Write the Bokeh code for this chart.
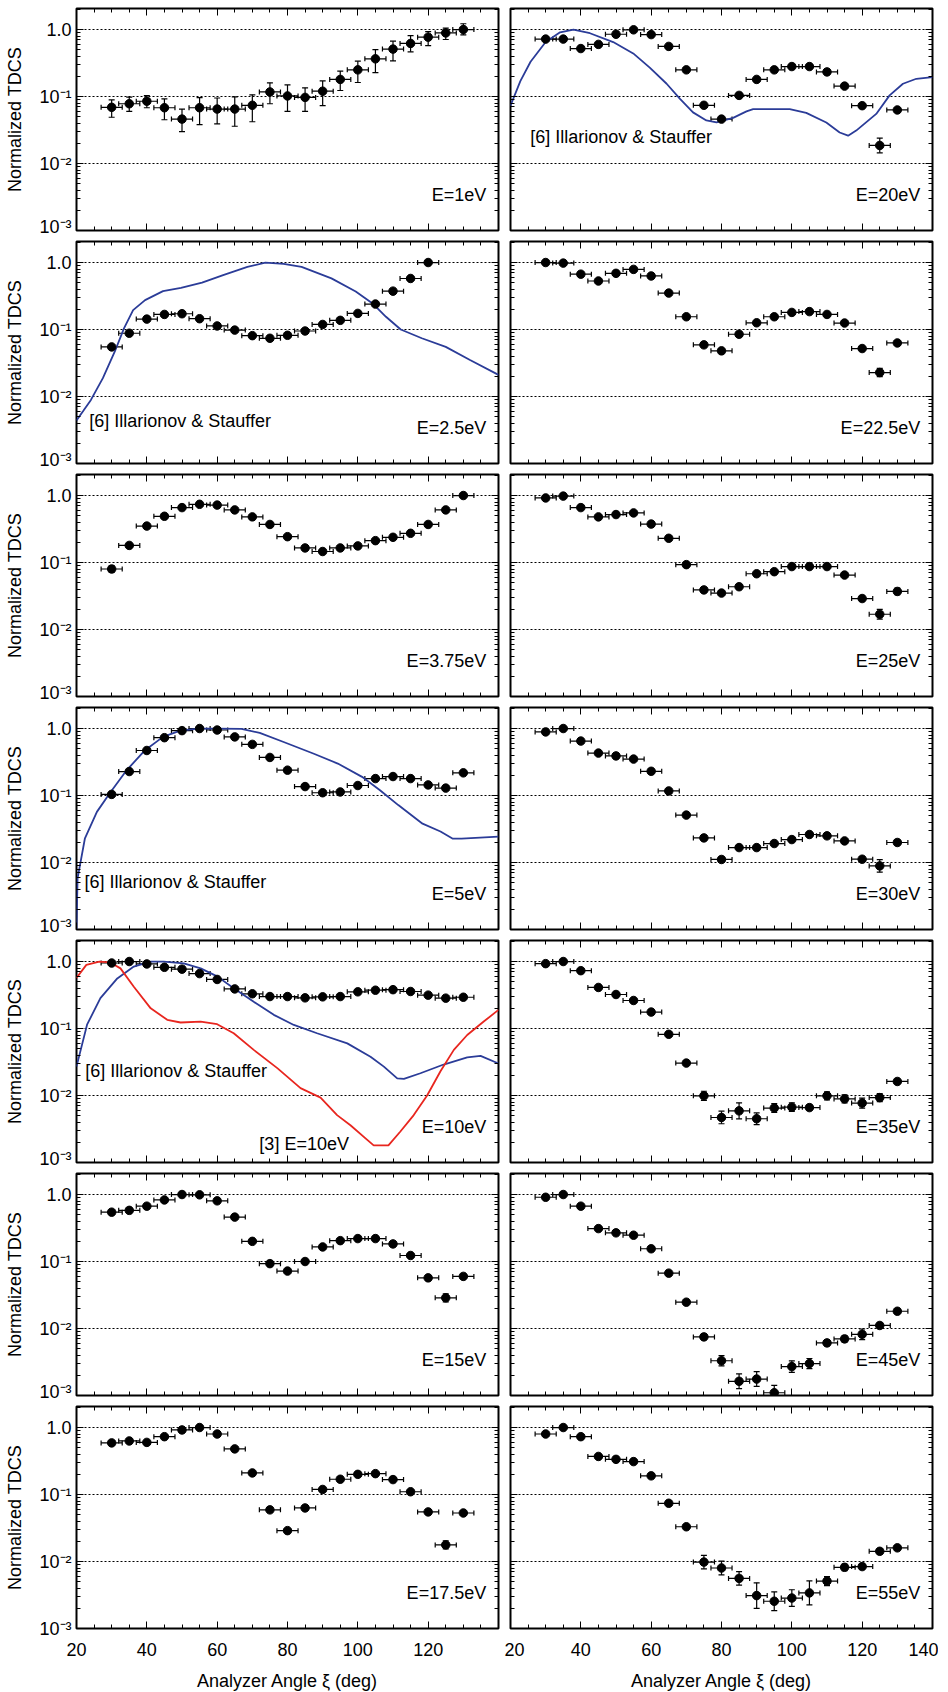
from bokeh.plotting import figure
from bokeh.layouts import column, row
from bokeh.models import (Range1d, FixedTicker, LinearAxis, LogAxis, ColumnDataSource,
                          Whisker, TeeHead, CustomJSTickFormatter)
from bokeh.core.properties import value
from bokeh.embed import file_html
from bokeh.resources import INLINE

FONT = "Liberation Sans"
BLUE = "#2b3c98"
RED = "#e8261f"

# ---------------- data ----------------
angles = [30, 35, 40, 45, 50, 55, 60, 65, 70, 75, 80, 85, 90, 95, 100, 105, 110, 115, 120, 125, 130]
angles_2p5 = [30, 35, 40, 45, 50, 55, 60, 65, 70, 75, 80, 85, 90, 95, 100, 105, 110, 115, 120]
x_halfwidth = 3.0

tdcs_1 = [0.069, 0.078, 0.085, 0.068, 0.046, 0.068, 0.065, 0.065, 0.074, 0.117, 0.102, 0.097, 0.12, 0.18, 0.25, 0.365, 0.51, 0.62, 0.77, 0.89, 1.0]
lo_1 = [0.049, 0.060, 0.068, 0.045, 0.030, 0.038, 0.039, 0.036, 0.042, 0.078, 0.060, 0.060, 0.073, 0.123, 0.162, 0.228, 0.34, 0.465, 0.577, 0.71, 0.83]
hi_1 = [0.089, 0.098, 0.103, 0.092, 0.065, 0.096, 0.095, 0.099, 0.106, 0.16, 0.149, 0.135, 0.171, 0.24, 0.337, 0.50, 0.67, 0.81, 0.93, 1.05, 1.22]

tdcs_2p5 = [0.055, 0.088, 0.143, 0.168, 0.172, 0.145, 0.113, 0.098, 0.081, 0.074, 0.082, 0.095, 0.119, 0.137, 0.174, 0.24, 0.374, 0.578, 1.0]
ef_2p5 = [1.05] * 19

tdcs_3p75 = [0.080, 0.18, 0.35, 0.49, 0.66, 0.74, 0.72, 0.61, 0.48, 0.37, 0.243, 0.165, 0.146, 0.165, 0.177, 0.212, 0.238, 0.273, 0.37, 0.61, 1.0]
ef_3p75 = [1.12, 1.06, 1.05, 1.05, 1.05, 1.05, 1.05, 1.05, 1.05, 1.05, 1.05, 1.05, 1.05, 1.05, 1.05, 1.05, 1.05, 1.05, 1.05, 1.05, 1.05]

tdcs_5 = [0.104, 0.228, 0.47, 0.73, 0.93, 1.0, 0.95, 0.75, 0.58, 0.37, 0.239, 0.136, 0.11, 0.113, 0.141, 0.179, 0.192, 0.179, 0.144, 0.129, 0.218]
ef_5 = [1.05] * 21

tdcs_10 = [0.95, 1.0, 0.92, 0.82, 0.77, 0.66, 0.54, 0.39, 0.33, 0.30, 0.30, 0.287, 0.297, 0.30, 0.353, 0.373, 0.38, 0.357, 0.315, 0.284, 0.293]
ef_10 = [1.05] * 21

tdcs_15 = [0.545, 0.58, 0.67, 0.83, 1.0, 0.99, 0.805, 0.46, 0.20, 0.093, 0.072, 0.10, 0.165, 0.205, 0.22, 0.22, 0.183, 0.123, 0.057, 0.0287, 0.060]
ef_15 = [1.05, 1.05, 1.05, 1.05, 1.05, 1.05, 1.05, 1.05, 1.05, 1.06, 1.06, 1.05, 1.05, 1.05, 1.05, 1.05, 1.05, 1.05, 1.07, 1.15, 1.07]

tdcs_17p5 = [0.59, 0.63, 0.60, 0.73, 0.92, 1.0, 0.80, 0.48, 0.21, 0.059, 0.0289, 0.063, 0.119, 0.169, 0.20, 0.205, 0.167, 0.11, 0.055, 0.0177, 0.053]
ef_17p5 = [1.05, 1.05, 1.05, 1.05, 1.05, 1.05, 1.05, 1.05, 1.05, 1.06, 1.07, 1.05, 1.05, 1.05, 1.05, 1.05, 1.05, 1.05, 1.07, 1.15, 1.07]

tdcs_20 = [0.72, 0.72, 0.52, 0.60, 0.85, 0.99, 0.84, 0.56, 0.25, 0.074, 0.046, 0.104, 0.18, 0.25, 0.28, 0.28, 0.233, 0.143, 0.073, 0.0186, 0.063]
ef_20 = [1.05, 1.05, 1.05, 1.05, 1.05, 1.05, 1.05, 1.05, 1.05, 1.05, 1.06, 1.05, 1.05, 1.05, 1.05, 1.05, 1.05, 1.05, 1.06, 1.29, 1.06]

tdcs_22p5 = [1.0, 0.98, 0.67, 0.53, 0.69, 0.79, 0.63, 0.35, 0.155, 0.059, 0.048, 0.085, 0.126, 0.155, 0.18, 0.185, 0.168, 0.125, 0.052, 0.0228, 0.063]
ef_22p5 = [1.05, 1.05, 1.05, 1.05, 1.05, 1.05, 1.05, 1.05, 1.05, 1.06, 1.06, 1.05, 1.05, 1.05, 1.05, 1.05, 1.05, 1.05, 1.06, 1.15, 1.06]

tdcs_25 = [0.92, 0.98, 0.66, 0.48, 0.52, 0.55, 0.375, 0.23, 0.093, 0.039, 0.035, 0.0435, 0.068, 0.073, 0.087, 0.087, 0.087, 0.065, 0.029, 0.0169, 0.037]
ef_25 = [1.05, 1.05, 1.05, 1.05, 1.05, 1.05, 1.05, 1.05, 1.05, 1.08, 1.08, 1.07, 1.05, 1.05, 1.05, 1.05, 1.05, 1.05, 1.10, 1.18, 1.12]

tdcs_30 = [0.89, 1.0, 0.65, 0.43, 0.39, 0.35, 0.23, 0.117, 0.051, 0.0233, 0.0111, 0.0167, 0.0167, 0.0192, 0.022, 0.0262, 0.025, 0.021, 0.0112, 0.0089, 0.0199]
ef_30 = [1.05, 1.05, 1.05, 1.05, 1.05, 1.05, 1.05, 1.05, 1.05, 1.06, 1.10, 1.07, 1.07, 1.06, 1.06, 1.06, 1.06, 1.06, 1.08, 1.24, 1.10]

tdcs_35 = [0.93, 1.0, 0.73, 0.41, 0.322, 0.262, 0.176, 0.082, 0.0305, 0.0099, 0.0047, 0.0059, 0.0045, 0.0065, 0.0067, 0.0066, 0.0099, 0.0089, 0.0077, 0.0093, 0.0162]
ef_35 = [1.05, 1.05, 1.05, 1.05, 1.05, 1.05, 1.05, 1.05, 1.05, 1.17, 1.24, 1.32, 1.22, 1.16, 1.16, 1.10, 1.15, 1.15, 1.19, 1.15, 1.08]

tdcs_45 = [0.91, 1.0, 0.67, 0.31, 0.268, 0.247, 0.155, 0.067, 0.0247, 0.0075, 0.0033, 0.00163, 0.00176, 0.0011, 0.0027, 0.0030, 0.0061, 0.0070, 0.0082, 0.0111, 0.0181]
ef_45 = [1.05, 1.05, 1.05, 1.05, 1.05, 1.05, 1.05, 1.05, 1.05, 1.10, 1.19, 1.29, 1.29, 1.29, 1.22, 1.19, 1.10, 1.12, 1.20, 1.10, 1.08]

tdcs_55 = [0.80, 1.0, 0.73, 0.37, 0.335, 0.31, 0.19, 0.074, 0.033, 0.0098, 0.0080, 0.0056, 0.0031, 0.00255, 0.00285, 0.0034, 0.0051, 0.0082, 0.0084, 0.0142, 0.016]
ef_55 = [1.05, 1.05, 1.05, 1.05, 1.05, 1.05, 1.05, 1.05, 1.05, 1.26, 1.27, 1.26, 1.55, 1.38, 1.33, 1.51, 1.17, 1.12, 1.10, 1.10, 1.08]

# theory curves ([6] Illarionov & Stauffer, [3])
th_2p5_x = [20, 22, 24.1, 27.5, 30.9, 33.5, 36.1, 39.5, 44.6, 49.7, 55.7, 61.7, 68.6, 73.7, 78.9, 84, 92.5, 99.4, 104.4, 108, 112.2, 118.2, 125, 131.9, 140]
th_2p5_y = [0.0044, 0.0062, 0.0089, 0.0188, 0.047, 0.104, 0.195, 0.275, 0.374, 0.42, 0.50, 0.65, 0.86, 1.0, 0.955, 0.86, 0.58, 0.37, 0.24, 0.155, 0.10, 0.074, 0.055, 0.035, 0.021]

th_5_x = [20.0, 20.3, 22.4, 25.8, 29.4, 34.3, 39.5, 44.6, 49.7, 54.9, 60, 66.9, 72.1, 78.9, 87.5, 94.3, 101.2, 106.3, 111.5, 118.4, 123.5, 126.9, 129.5, 140]
th_5_y = [0.001, 0.0058, 0.023, 0.057, 0.107, 0.24, 0.475, 0.75, 0.94, 1.0, 1.0, 0.99, 0.86, 0.63, 0.42, 0.30, 0.19, 0.12, 0.072, 0.038, 0.029, 0.0228, 0.0228, 0.0243]

th_10_x = [20, 23, 26.8, 31.6, 36.3, 41, 44.8, 50.5, 55.3, 60, 64.7, 70.4, 76.1, 81.8, 88.4, 97, 103.6, 107.4, 111.2, 113.1, 117.8, 124.4, 131.1, 134.9, 140]
th_10_y = [0.027, 0.114, 0.284, 0.56, 0.84, 1.0, 1.0, 0.94, 0.79, 0.60, 0.40, 0.25, 0.16, 0.113, 0.085, 0.060, 0.038, 0.027, 0.018, 0.0177, 0.0215, 0.029, 0.037, 0.039, 0.030]

ref3_10_x = [20, 22.8, 26.5, 29.6, 32.5, 36.3, 41.1, 45.8, 49.6, 55.3, 60, 64.7, 70.4, 77.1, 83.7, 89.4, 94.1, 97.9, 102.6, 104.5, 108.7, 112.1, 115.9, 119.7, 123.5, 127.3, 131.1, 135.8, 140]
ref3_10_y = [0.57, 0.89, 1.0, 0.97, 0.79, 0.42, 0.20, 0.135, 0.123, 0.127, 0.116, 0.085, 0.048, 0.0256, 0.0129, 0.0093, 0.0051, 0.0036, 0.0022, 0.0018, 0.0018, 0.0029, 0.0051, 0.010, 0.023, 0.048, 0.080, 0.127, 0.19]

th_20_x = [20, 22.8, 25.7, 30, 34.1, 37.9, 42.6, 49.2, 54.9, 59.6, 64.4, 68.2, 71.9, 75.7, 78.6, 83.3, 87.1, 89, 99.4, 104.1, 109.8, 113.6, 116, 118.3, 124, 127.8, 131.6, 135.4, 140]
th_20_y = [0.073, 0.17, 0.33, 0.65, 0.91, 1.0, 0.88, 0.65, 0.44, 0.27, 0.155, 0.092, 0.058, 0.044, 0.041, 0.048, 0.060, 0.065, 0.065, 0.057, 0.041, 0.029, 0.026, 0.031, 0.055, 0.104, 0.155, 0.184, 0.195]

x_ticks = [20, 40, 60, 80, 100, 120, 140]
x_ticks_labeled_left = [20, 40, 60, 80, 100, 120]
x_minor = [20, 25, 30, 35, 40, 45, 50, 55, 60, 65, 70, 75, 80, 85, 90, 95, 100, 105, 110, 115, 120, 125, 130, 135, 140]
y_ticks = [0.001, 0.01, 0.1, 1.0]
y_minor = [2e-3, 3e-3, 4e-3, 5e-3, 6e-3, 7e-3, 8e-3, 9e-3,
           2e-2, 3e-2, 4e-2, 5e-2, 6e-2, 7e-2, 8e-2, 9e-2,
           0.2, 0.3, 0.4, 0.5, 0.6, 0.7, 0.8, 0.9, 2.0]

NROWS = 7
ILL = "[6] Illarionov & Stauffer"


def style_axis(ax, ticker, labels):
    ax.ticker = ticker
    ax.axis_line_color = None
    ax.major_tick_in = 7
    ax.major_tick_out = 0
    ax.minor_tick_in = 4
    ax.minor_tick_out = 0
    ax.major_tick_line_color = "black"
    ax.minor_tick_line_color = "black"
    ax.major_tick_line_width = 1
    ax.minor_tick_line_width = 1
    ax.major_label_text_font = FONT
    ax.major_label_text_font_size = "18px"
    if labels:
        ax.major_label_text_color = "black"
    else:
        ax.major_label_text_color = None
        ax.major_label_standoff = 0


def make_panel(col, r, xs, ys, lo, hi, label, curves=(), notes=()):
    last = (r == NROWS - 1)
    p = figure(x_range=Range1d(20, 140), y_range=Range1d(1e-3, 2.06), y_axis_type="log",
               frame_width=422, frame_height=222, output_backend="svg", toolbar_location=None,
               min_border_left=76 if col == 0 else 6, min_border_right=6,
               min_border_top=8 if r == 0 else 5, min_border_bottom=60 if last else 6)
    p.outline_line_color = "black"
    p.outline_line_width = 2
    p.outline_line_alpha = 1.0

    xt = FixedTicker(ticks=x_ticks, minor_ticks=x_minor)
    yt = FixedTicker(ticks=y_ticks, minor_ticks=y_minor)

    # bottom axis
    bx = p.xaxis[0]
    if last and col == 0:
        style_axis(bx, FixedTicker(ticks=x_ticks_labeled_left, minor_ticks=x_minor), True)
    else:
        style_axis(bx, xt, last)
    if last:
        bx.major_label_standoff = 14
        bx.axis_label = "Analyzer Angle \u03be (deg)"
        bx.axis_label_text_font = FONT
        bx.axis_label_text_font_size = "18px"
        bx.axis_label_text_font_style = "normal"
        bx.axis_label_text_color = "black"
        bx.axis_label_standoff = 12

    # left axis
    ly = p.yaxis[0]
    style_axis(ly, yt, col == 0)
    if col == 0:
        ly.major_label_standoff = 5
        ly.formatter = CustomJSTickFormatter(code="""
            const m = {"1": "1.0", "0.1": "10\u207b\u00b9", "0.01": "10\u207b\u00b2", "0.001": "10\u207b\u00b3"};
            const k = String(tick);
            return (k in m) ? m[k] : String(tick);
        """)
        ly.axis_label = "Normalized TDCS"
        ly.axis_label_text_font = FONT
        ly.axis_label_text_font_size = "18px"
        ly.axis_label_text_font_style = "normal"
        ly.axis_label_text_color = "black"
        ly.axis_label_standoff = 11

    top = LinearAxis()
    style_axis(top, xt, False)
    p.add_layout(top, "above")
    right = LogAxis()
    style_axis(right, yt, False)
    p.add_layout(right, "right")

    p.xgrid.visible = False
    p.ygrid.ticker = yt
    p.ygrid.grid_line_color = "black"
    p.ygrid.grid_line_dash = "2 2"
    p.ygrid.grid_line_width = 1

    for cx, cy, color in curves:
        p.line(cx, cy, line_color=color, line_width=1.8)

    xl = [a - x_halfwidth for a in xs]
    xu = [a + x_halfwidth for a in xs]
    src = ColumnDataSource(dict(x=xs, y=ys, xl=xl, xu=xu, yl=lo, yu=hi))
    p.add_layout(Whisker(source=src, base="y", lower="xl", upper="xu", dimension="width",
                         line_color="black", line_width=1.2,
                         upper_head=TeeHead(size=5, line_color="black", line_width=1.2),
                         lower_head=TeeHead(size=5, line_color="black", line_width=1.2)))
    p.add_layout(Whisker(source=src, base="x", lower="yl", upper="yu", dimension="height",
                         line_color="black", line_width=1.2,
                         upper_head=TeeHead(size=6, line_color="black", line_width=1.2),
                         lower_head=TeeHead(size=6, line_color="black", line_width=1.2)))
    p.scatter(x="x", y="y", source=src, size=8.5, color="black")

    p.text(x=[136.5], y=[0.0034], text=[label], text_align="right", text_baseline="middle",
           text_font=value(FONT), text_font_size="18px", text_color="black")
    for tx, ty, tt in notes:
        p.text(x=[tx], y=[ty], text=[tt], text_align="left", text_baseline="middle",
               text_font=value(FONT), text_font_size="18px", text_color="black")
    return p


def with_factor(ys, ef):
    return [y / f for y, f in zip(ys, ef)], [y * f for y, f in zip(ys, ef)]


left_specs = [
    (angles, tdcs_1, lo_1, hi_1, "E=1eV", [], []),
    (angles_2p5, tdcs_2p5, *with_factor(tdcs_2p5, ef_2p5), "E=2.5eV",
     [(th_2p5_x, th_2p5_y, BLUE)], [(23.6, 0.0043, ILL)]),
    (angles, tdcs_3p75, *with_factor(tdcs_3p75, ef_3p75), "E=3.75eV", [], []),
    (angles, tdcs_5, *with_factor(tdcs_5, ef_5), "E=5eV",
     [(th_5_x, th_5_y, BLUE)], [(22.3, 0.0052, ILL)]),
    (angles, tdcs_10, *with_factor(tdcs_10, ef_10), "E=10eV",
     [(th_10_x, th_10_y, BLUE), (ref3_10_x, ref3_10_y, RED)],
     [(22.5, 0.023, ILL), (72.0, 0.0019, "[3] E=10eV")]),
    (angles, tdcs_15, *with_factor(tdcs_15, ef_15), "E=15eV", [], []),
    (angles, tdcs_17p5, *with_factor(tdcs_17p5, ef_17p5), "E=17.5eV", [], []),
]
right_specs = [
    (angles, tdcs_20, *with_factor(tdcs_20, ef_20), "E=20eV",
     [(th_20_x, th_20_y, BLUE)], [(25.6, 0.025, ILL)]),
    (angles, tdcs_22p5, *with_factor(tdcs_22p5, ef_22p5), "E=22.5eV", [], []),
    (angles, tdcs_25, *with_factor(tdcs_25, ef_25), "E=25eV", [], []),
    (angles, tdcs_30, *with_factor(tdcs_30, ef_30), "E=30eV", [], []),
    (angles, tdcs_35, *with_factor(tdcs_35, ef_35), "E=35eV", [], []),
    (angles, tdcs_45, *with_factor(tdcs_45, ef_45), "E=45eV", [], []),
    (angles, tdcs_55, *with_factor(tdcs_55, ef_55), "E=55eV", [], []),
]

rows = []
for r in range(NROWS):
    L = make_panel(0, r, *left_specs[r])
    R = make_panel(1, r, *right_specs[r])
    rows.append(row(L, R))

layout = column(*rows)
open("out.html", "w").write(file_html(layout, INLINE))
